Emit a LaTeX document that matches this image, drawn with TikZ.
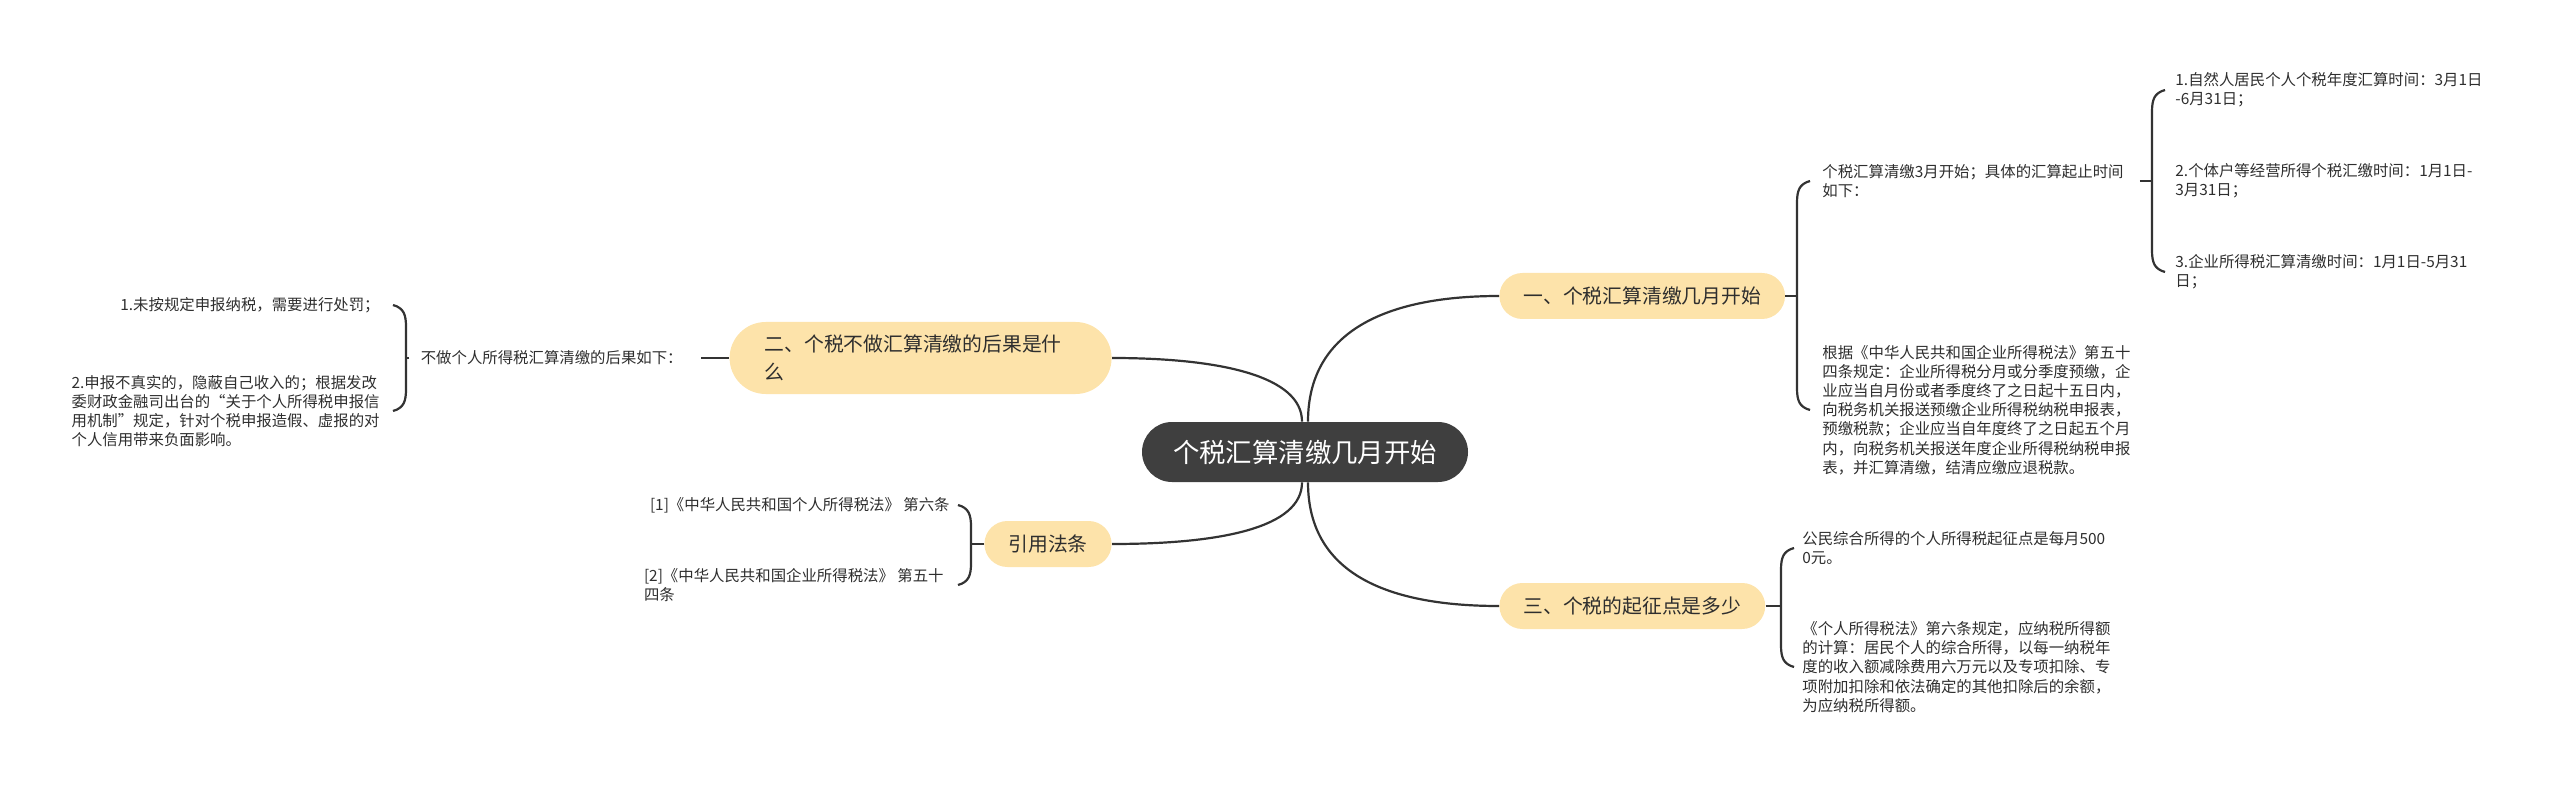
\documentclass[tikz,border=0pt]{standalone}
\usepackage{fontspec}
\newfontfamily\cjk{Noto Sans CJK SC}
\usetikzlibrary{calc}
\definecolor{rootc}{HTML}{3F3F3F}
\definecolor{topicc}{HTML}{FDE3AA}
\definecolor{linec}{HTML}{333333}
\definecolor{textc}{HTML}{2E2E2E}
\newcommand\bracepath[3]{%
  \draw[link] (#1) .. controls ($(#1)+({-11*#3},3)$) and ($(#1)+({-13*#3},10)$) .. ($(#1)+({-13*#3},22)$)
    -- ($(#2)+({-13*#3},-22)$) .. controls ($(#2)+({-13*#3},-10)$) and ($(#2)+({-11*#3},-3)$) .. (#2);}
\begin{document}
\begin{tikzpicture}[x=0.5pt,y=-0.5pt,
  link/.style={draw=linec, line width=1.1pt},
  root/.style={fill=rootc, text=white, rounded corners=15pt, minimum height=30pt, inner xsep=15.5pt, inner ysep=0pt, font=\cjk\fontsize{13.2}{16}\selectfont},
  topic/.style={fill=topicc, text=textc, rounded corners=11.5pt, minimum height=23pt, inner xsep=12pt, inner ysep=0pt, font=\cjk\fontsize{9.9}{14}\selectfont},
  leaf/.style={text=textc, inner sep=0pt, align=left, font=\cjk\fontsize{7.7}{9.6}\selectfont}]
\useasboundingbox (0,0) rectangle (2560,791);

% main nodes
\node[root] (c) at (1305,452) {个税汇算清缴几月开始};
\node[topic, anchor=west] (n1) at (1499,296) {一、个税汇算清缴几月开始};
\node[topic, anchor=west] (n3) at (1499,606) {三、个税的起征点是多少};
\node[topic, anchor=east, text width=156pt, inner xsep=17.5pt, minimum height=36pt, rounded corners=18pt, align=left] (n2) at (1112,358) {二、个税不做汇算清缴的后果是什\\么};
\node[topic, anchor=east] (n4) at (1112,544) {引用法条};

% central connectors
\draw[link] ($(c.north)+(3,0)$) .. controls ($(c.north)+(3,-95)$) and ($(n1.west)+(-105,0)$) .. (n1.west);
\draw[link] ($(c.south)+(3,0)$) .. controls ($(c.south)+(3,95)$) and ($(n3.west)+(-105,0)$) .. (n3.west);
\draw[link] ($(c.north)+(-3,0)$) .. controls ($(c.north)+(-3,-45)$) and ($(n2.east)+(110,0)$) .. (n2.east);
\draw[link] ($(c.south)+(-3,0)$) .. controls ($(c.south)+(-3,45)$) and ($(n4.east)+(110,0)$) .. (n4.east);

% branch one
\node[leaf, anchor=west] (a1) at (1822,181) {个税汇算清缴3月开始；具体的汇算起止时间\\如下：};
\node[leaf, anchor=west] (a2) at (1822,410) {根据《中华人民共和国企业所得税法》第五十\\四条规定：企业所得税分月或分季度预缴，企\\业应当自月份或者季度终了之日起十五日内，\\向税务机关报送预缴企业所得税纳税申报表，\\预缴税款；企业应当自年度终了之日起五个月\\内，向税务机关报送年度企业所得税纳税申报\\表，并汇算清缴，结清应缴应退税款。};
\coordinate (e1t) at ($(a1.west)+(-12,0)$);
\coordinate (e1b) at (a2.west -| e1t);
\coordinate (v1) at ($(n1.east -| e1t)+(-13,0)$);
\draw[link] (n1.east) -- (v1);
\bracepath{e1t}{e1b}{1}

\node[leaf, anchor=west] (g1) at (2175,90) {1.自然人居民个人个税年度汇算时间：3月1日\\-6月31日；};
\node[leaf, anchor=west] (g2) at (2175,181) {2.个体户等经营所得个税汇缴时间：1月1日-\\3月31日；};
\node[leaf, anchor=west] (g3) at (2175,272) {3.企业所得税汇算清缴时间：1月1日-5月31\\日；};
\coordinate (e2t) at ($(g1.west)+(-10,0)$);
\coordinate (e2b) at (g3.west -| e2t);
\coordinate (v2) at ($(a1.east -| e2t)+(-13,0)$);
\draw[link] ($(a1.east)+(16,0)$) -- (v2);
\bracepath{e2t}{e2b}{1}

% branch three
\node[leaf, anchor=west] (b1) at (1802,548) {公民综合所得的个人所得税起征点是每月500\\0元。};
\node[leaf, anchor=west] (b2) at (1802,667) {《个人所得税法》第六条规定，应纳税所得额\\的计算：居民个人的综合所得，以每一纳税年\\度的收入额减除费用六万元以及专项扣除、专\\项附加扣除和依法确定的其他扣除后的余额，\\为应纳税所得额。};
\coordinate (e3t) at ($(b1.west)+(-8,0)$);
\coordinate (e3b) at (b2.west -| e3t);
\coordinate (v3) at ($(n3.east -| e3t)+(-13,0)$);
\draw[link] (n3.east) -- (v3);
\bracepath{e3t}{e3b}{1}

% branch two
\node[leaf, anchor=east] (t) at (683,358) {不做个人所得税汇算清缴的后果如下：};
\draw[link] (n2.west) -- ($(t.east)+(18,0)$);
\node[leaf, anchor=east] (u1) at (380,305) {1.未按规定申报纳税，需要进行处罚；};
\node[leaf, anchor=east] (u2) at (380,411) {2.申报不真实的，隐蔽自己收入的；根据发改\\委财政金融司出台的“关于个人所得税申报信\\用机制”规定，针对个税申报造假、虚报的对\\个人信用带来负面影响。};
\coordinate (e4t) at ($(u1.east)+(13,0)$);
\coordinate (e4b) at (u2.east -| e4t);
\coordinate (v4) at ($(t.west -| e4t)+(13,0)$);
\draw[link] ($(t.west)+(-11,0)$) -- (v4);
\bracepath{e4t}{e4b}{-1}

% branch four
\node[leaf, anchor=east] (r1) at (950,505) {[1]《中华人民共和国个人所得税法》 第六条};
\node[leaf, anchor=east] (r2) at (944,585) {[2]《中华人民共和国企业所得税法》 第五十\\四条};
\coordinate (e5t) at ($(r1.east)+(8,0)$);
\coordinate (e5b) at (r2.east -| e5t);
\coordinate (v5) at ($(n4.west -| e5t)+(13,0)$);
\draw[link] (n4.west) -- (v5);
\bracepath{e5t}{e5b}{-1}
\end{tikzpicture}
\end{document}
